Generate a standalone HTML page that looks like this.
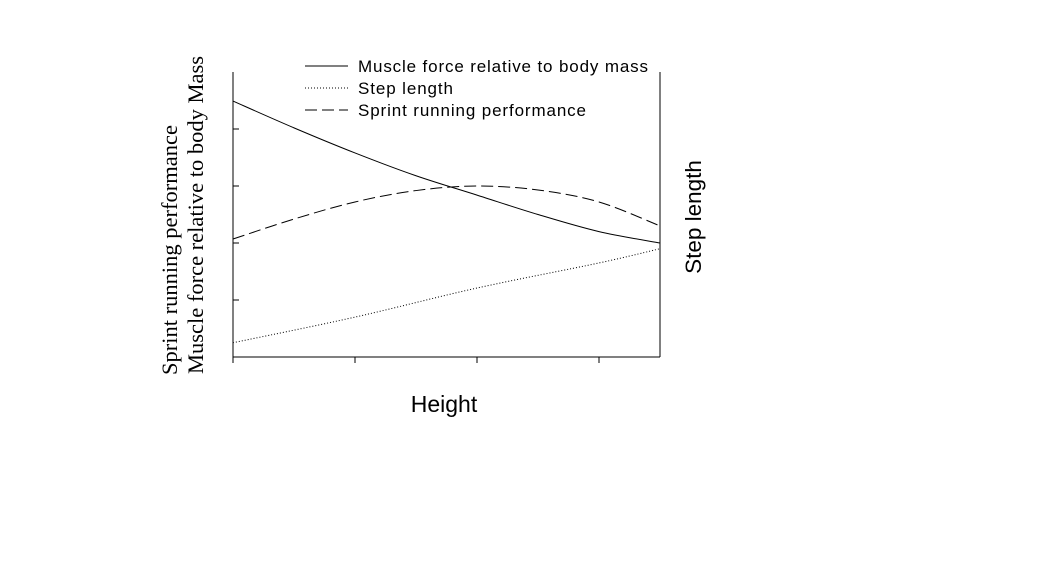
<!DOCTYPE html>
<html><head><meta charset="utf-8"><style>
body{margin:0;background:#fff;width:1052px;height:577px;overflow:hidden}
svg text{fill:#000}
</style></head><body>
<svg width="1052" height="577" xmlns="http://www.w3.org/2000/svg">
<g id="axes"></g>
<g id="series"></g>
<g font-family="Liberation Sans, sans-serif" font-size="17">
<line x1="305" y1="66" x2="348" y2="66" stroke="#000" stroke-width="1"/>
<text x="358" y="72" textLength="290" lengthAdjust="spacing">Muscle force relative to body mass</text>
<line x1="305" y1="88" x2="348" y2="88" stroke="#000" stroke-width="1" stroke-dasharray="1,2"/>
<text x="358" y="94" textLength="95" lengthAdjust="spacing">Step length</text>
<line x1="305" y1="110" x2="348" y2="110" stroke="#000" stroke-width="1" stroke-dasharray="12,5"/>
<text x="358" y="116" textLength="228" lengthAdjust="spacing">Sprint running performance</text>
</g>
<g font-family="Liberation Serif, serif" font-size="22.5" text-anchor="middle">
<text transform="translate(177,250) rotate(-90)">Sprint running performance</text>
<text transform="translate(203,215) rotate(-90)">Muscle force relative to body Mass</text>
</g>
<text font-family="Liberation Sans, sans-serif" font-size="22.5" text-anchor="middle" transform="translate(701,217) rotate(-90)">Step length</text>
<text font-family="Liberation Sans, sans-serif" font-size="23" text-anchor="middle" x="444" y="412">Height</text>
</svg>
<script>
const xs=[0,0.5,1,1.5,2,2.5,3,3.5];
const muscle=[4.49,4.02,3.58,3.18,2.84,2.50,2.20,2.0];
const sprintX=[0,0.5,1,1.5,2,2.5,3,3.5];
const sprint=[2.07,2.42,2.72,2.92,3.0,2.93,2.72,2.30];
const stepX=[0,1,2,3,3.5];
const step=[0.25,0.70,1.21,1.65,1.9];
const xTicks=[0,1,2,3];
const yTicks=[1,2,3,4];
const L=233,R=660,B=357,T=72;
const sx=v=>L+v/3.5*(R-L), sy=v=>B-v/5*(B-T);
const NS='http://www.w3.org/2000/svg';
function mk(tag,attrs,parent){const e=document.createElementNS(NS,tag);for(const k in attrs)e.setAttribute(k,attrs[k]);parent.appendChild(e);return e;}
const ax=document.getElementById('axes');
let e=mk('line',{x1:L,y1:T,x2:L,y2:B,stroke:'#000'},ax);


e=mk('line',{x1:R,y1:T,x2:R,y2:B,stroke:'#000'},ax);


e=mk('line',{x1:L,y1:B,x2:R,y2:B,stroke:'#000'},ax);


xTicks.forEach(t=>{const l=mk('line',{x1:sx(t),y1:B,x2:sx(t),y2:B+6,stroke:'#000'},ax);

});
yTicks.forEach(t=>{const l=mk('line',{x1:L,y1:sy(t),x2:L+6,y2:sy(t),stroke:'#000'},ax);

});
function path(X,Y){const p=X.map((x,i)=>[sx(x),sy(Y[i])]);let d='M'+p[0];
for(let i=0;i<p.length-1;i++){const p0=p[i-1]||p[i],p1=p[i],p2=p[i+1],p3=p[i+2]||p2;
const c1=[p1[0]+(p2[0]-p0[0])/6,p1[1]+(p2[1]-p0[1])/6],c2=[p2[0]-(p3[0]-p1[0])/6,p2[1]-(p3[1]-p1[1])/6];
d+=' C'+c1+' '+c2+' '+p2;}return d;}
const sg=document.getElementById('series');
e=mk('path',{d:path(xs,muscle),fill:'none',stroke:'#000','stroke-width':1},sg);


e=mk('path',{d:path(sprintX,sprint),fill:'none',stroke:'#000','stroke-width':1,'stroke-dasharray':'12,5'},sg);


e=mk('path',{d:path(stepX,step),fill:'none',stroke:'#000','stroke-width':1,'stroke-dasharray':'1,2'},sg);


</script>
</body></html>
